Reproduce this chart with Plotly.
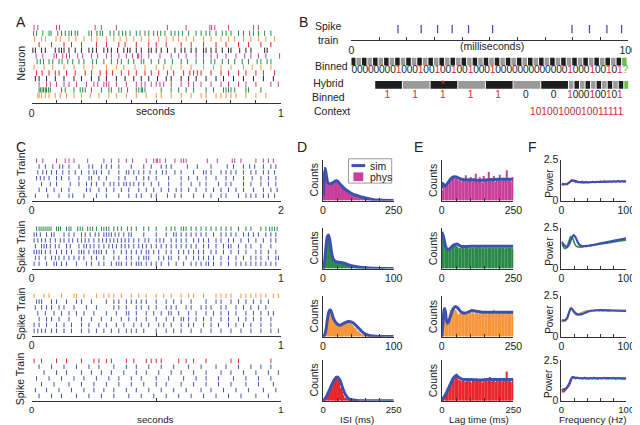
import plotly.graph_objects as go

FONT = "Liberation Sans, Arial, sans-serif"
W, H = 640, 425

MAG = "#c9409b"; GRN = "#2b8a48"; ORG = "#f7963a"; RED = "#e8262c"
BLK = "#262626"; BLU = "#4555ad"; SIM = "#3b52b0"

# ---------------- Panel A: spike times (ms) ----------------
A_n01 = [10, 25, 100, 112, 255, 280, 340, 545, 620, 715, 722, 735, 790, 890, 910]
A_n02 = [8, 20, 45, 70, 78, 105, 120, 135, 150, 160, 175, 185, 230, 240, 262, 275, 285, 315, 330, 350, 365, 378, 395, 420, 435, 455, 470, 490, 505, 518, 535, 560, 575, 590, 605, 630, 660, 680, 700, 715, 740, 765, 780, 800, 830, 850, 875, 890, 910, 935, 960]
A_n03 = [12, 40, 55, 98, 115, 150, 178, 210, 240, 262, 300, 330, 355, 380, 410, 440, 470, 510, 540, 568, 590, 620, 650, 690, 720, 760, 790, 815, 850, 880, 910, 940, 975]
A_n04 = [30, 80, 130, 160, 200, 260, 300, 350, 375, 420, 470, 500, 540, 600, 640, 690, 740, 780, 830, 870, 920, 960]
A_n05 = [5, 15, 40, 55, 95, 110, 120, 130, 150, 175, 200, 230, 245, 260, 290, 305, 320, 345, 370, 385, 395, 420, 440, 470, 480, 500, 520, 545, 575, 600, 615, 640, 660, 690, 700, 720, 740, 765, 790, 800, 835, 860, 880, 935, 945]
A_n06 = [18, 45, 90, 100, 125, 140, 152, 185, 205, 240, 265, 300, 320, 350, 380, 405, 425, 430, 440, 470, 515, 560, 590, 620, 660, 690, 720, 745, 780, 820, 855, 880, 910, 940, 995]
A_n07 = [22, 35, 48, 70, 85, 110, 122, 145, 165, 190, 210, 245, 260, 290, 320, 345, 360, 388, 410, 440, 450, 480, 510, 535, 565, 600, 625, 660, 690, 720, 735, 765, 790, 815, 845, 870, 905, 920, 945, 960]
A_n08 = [10, 50, 85, 130, 170, 210, 245, 300, 340, 370, 415, 455, 500, 530, 560, 600, 640, 690, 730, 760, 800, 850, 885, 920, 960]
A_n09 = [20, 42, 70, 95, 110, 140, 175, 215, 240, 275, 300, 325, 360, 390, 420, 455, 480, 510, 545, 570, 610, 635, 650, 665, 680, 720, 760, 790, 830, 860, 900, 930, 975]
A_n10 = [15, 30, 60, 95, 130, 170, 200, 240, 270, 300, 340, 375, 410, 440, 470, 505, 540, 560, 600, 630, 660, 700, 740, 770, 810, 850, 890, 930, 970]
A_n11 = [30, 60, 75, 100, 130, 150, 180, 220, 250, 265, 290, 300, 310, 340, 380, 420, 440, 455, 480, 500, 515, 530, 560, 600, 630, 650, 680, 720, 760, 790, 830, 860, 900, 960, 990]
A_n12 = [30, 35, 42, 48, 55, 60, 68, 75, 120, 135, 170, 195, 205, 215, 240, 280, 310, 320, 350, 360, 385, 420, 430, 440, 445, 455, 520, 560, 590, 620, 650, 700, 730, 770, 780, 790, 800, 815, 860, 870, 920]
A_n13 = [25, 30, 40, 55, 70, 95, 115, 140, 170, 200, 235, 270, 310, 340, 380, 420, 460, 500, 520, 560, 600, 640, 680, 700, 740, 760, 780, 800, 820, 860, 900, 940]

# ---------------- Panel C: spike times (ms) ----------------
C1_r1 = [40, 90, 200, 270, 300, 340, 450, 580, 640, 700, 760, 810, 920, 980, 1000, 1010, 1030, 1075, 1150, 1200, 1220, 1240, 1410, 1490, 1610, 1630, 1680, 1800, 1860, 1900, 1940]
C1_r2 = [60, 110, 170, 225, 250, 300, 380, 460, 490, 560, 600, 640, 700, 800, 900, 960, 1040, 1080, 1120, 1250, 1330, 1440, 1570, 1620, 1700, 1750, 1790, 1860, 1920, 1960]
C1_r3 = [50, 90, 120, 160, 200, 250, 300, 350, 400, 460, 500, 520, 560, 620, 700, 760, 780, 820, 860, 900, 950, 1000, 1050, 1080, 1150, 1200, 1300, 1380, 1400, 1440, 1520, 1560, 1600, 1640, 1700, 1760, 1800, 1860, 1900, 1950]
C1_r4 = [40, 70, 100, 140, 200, 240, 300, 380, 460, 480, 540, 600, 700, 750, 840, 900, 940, 1000, 1100, 1200, 1260, 1330, 1400, 1480, 1560, 1620, 1700, 1770, 1840, 1900, 1960]
C1_r5 = [80, 150, 200, 310, 380, 440, 480, 520, 580, 630, 660, 700, 740, 760, 790, 820, 860, 900, 960, 1020, 1100, 1200, 1280, 1350, 1400, 1500, 1560, 1600, 1700, 1760, 1840, 1900, 1960]
C1_r6 = [60, 120, 180, 240, 300, 440, 470, 540, 600, 660, 720, 780, 860, 920, 980, 1040, 1100, 1160, 1200, 1260, 1320, 1400, 1460, 1520, 1580, 1640, 1700, 1780, 1860, 1920, 1970]
C1_r7 = [30, 130, 220, 300, 330, 420, 520, 600, 700, 780, 840, 880, 960, 1000, 1090, 1150, 1200, 1300, 1380, 1440, 1520, 1560, 1660, 1720, 1760, 1800, 1860, 1900, 1950]

C2_r1 = [20, 30, 38, 46, 54, 62, 70, 78, 100, 108, 116, 140, 150, 158, 185, 195, 205, 225, 235, 245, 260, 280, 290, 300, 310, 330, 345, 360, 385, 400, 420, 450, 470, 500, 540, 560, 575, 600, 610, 620, 640, 660, 680, 700, 720, 740, 760, 780, 800, 830, 860, 880, 920, 940, 955, 965, 975, 985]
C2_r2 = [10, 20, 35, 60, 80, 90, 130, 150, 170, 200, 215, 235, 255, 270, 290, 300, 310, 320, 335, 350, 370, 390, 400, 450, 500, 540, 570, 580, 600, 620, 640, 660, 680, 700, 730, 760, 780, 800, 820, 850, 870, 890, 910, 940, 960, 980]
C2_r3 = [10, 25, 40, 55, 75, 95, 115, 130, 150, 165, 185, 200, 215, 230, 250, 270, 285, 300, 315, 330, 345, 360, 375, 390, 410, 430, 455, 470, 500, 515, 530, 560, 580, 600, 620, 650, 670, 690, 710, 740, 760, 790, 810, 840, 870, 900, 930, 960, 980]
C2_r4 = [15, 40, 50, 60, 75, 95, 110, 140, 155, 190, 210, 220, 235, 250, 270, 290, 310, 325, 340, 360, 375, 390, 410, 430, 445, 460, 480, 500, 520, 540, 560, 580, 600, 620, 640, 660, 690, 710, 740, 770, 790, 800, 830, 860, 880, 920, 960]
C2_r5 = [10, 20, 30, 40, 55, 75, 100, 120, 140, 160, 190, 200, 210, 230, 250, 260, 270, 280, 300, 330, 360, 380, 400, 420, 440, 460, 470, 490, 510, 540, 560, 590, 610, 630, 650, 670, 690, 720, 740, 770, 800, 830, 860, 900, 920, 950, 980]
C2_r6 = [15, 30, 55, 80, 95, 110, 130, 150, 170, 190, 210, 240, 260, 290, 330, 350, 380, 400, 430, 450, 460, 470, 510, 530, 550, 560, 590, 620, 650, 670, 690, 710, 730, 760, 790, 820, 850, 880, 900, 920, 950, 980, 990]
C2_r7 = [10, 30, 60, 90, 100, 120, 140, 180, 220, 240, 270, 290, 320, 340, 350, 360, 380, 400, 420, 430, 440, 460, 480, 500, 520, 550, 580, 610, 640, 660, 680, 700, 710, 730, 760, 790, 820, 840, 860, 880, 900, 920, 940, 960, 980]

C3_r1 = [10, 50, 70, 120, 170, 180, 210, 260, 290, 310, 330, 360, 400, 430, 460, 500, 530, 560, 600, 630, 650, 690, 740, 760, 780, 800, 840, 860, 880, 900, 920, 940, 970, 990]
C3_r2 = [20, 30, 40, 80, 100, 140, 180, 200, 240, 300, 330, 350, 380, 400, 420, 440, 460, 500, 540, 570, 600, 640, 700, 740, 760, 800, 830, 860, 890, 920, 950]
C3_r3 = [15, 40, 60, 80, 110, 130, 170, 220, 260, 330, 350, 380, 420, 440, 470, 500, 540, 560, 580, 620, 640, 680, 700, 720, 760, 780, 820, 850, 880, 910, 940]
C3_r4 = [25, 55, 90, 120, 150, 180, 210, 250, 300, 340, 380, 390, 420, 460, 490, 520, 550, 560, 590, 630, 660, 700, 730, 760, 790, 820, 860, 890, 920, 950, 970]
C3_r5 = [30, 60, 80, 110, 150, 200, 240, 280, 320, 360, 390, 420, 460, 500, 540, 570, 600, 610, 630, 660, 690, 720, 760, 790, 830, 860, 890, 920, 960]
C3_r6 = [10, 30, 60, 100, 130, 160, 200, 230, 270, 300, 340, 370, 410, 440, 470, 510, 530, 560, 600, 630, 650, 690, 720, 750, 790, 820, 850, 880, 920, 960]
C3_r7 = [10, 25, 40, 55, 80, 100, 130, 160, 200, 230, 260, 290, 320, 350, 380, 400, 420, 450, 500, 540, 570, 600, 640, 680, 720, 760, 800, 840, 880, 920, 960, 990]

C4_r1 = [10, 40, 100, 140, 200, 250, 270, 300, 320, 380, 410, 460, 480, 500, 520, 590, 620, 650, 700, 800, 830, 960]
C4_r2 = [30, 80, 130, 180, 230, 270, 330, 380, 420, 470, 520, 570, 630, 680, 740, 780, 830, 880, 920, 960]
C4_r3 = [50, 100, 140, 200, 240, 280, 320, 370, 420, 460, 510, 560, 600, 650, 700, 760, 800, 850, 900, 950, 990]
C4_r4 = [20, 70, 120, 170, 210, 260, 310, 350, 400, 440, 500, 550, 610, 660, 700, 750, 810, 860, 910, 960]
C4_r5 = [40, 90, 150, 200, 250, 300, 350, 400, 450, 500, 540, 600, 650, 700, 750, 800, 860, 910, 970]
C4_r6 = [15, 60, 110, 160, 210, 250, 290, 330, 380, 420, 470, 520, 570, 620, 680, 720, 770, 820, 870, 930, 980]
C4_r7 = [30, 80, 120, 180, 230, 280, 330, 390, 440, 490, 540, 590, 640, 690, 740, 790, 840, 900, 950]

# ---------------- Panel B ----------------
B_spikes_ms = [16.8, 25.2, 31.1, 36.4, 42.3, 51.0, 79.7, 86.0, 92.3, 97.6]
B_binned = "00000000100010010010010001" + "0000000000000" + "1000100101" + "?"
B_hybrid_blocks = ["1", "1", "1", "1", "1", "0", "0"]
B_hybrid_small = "1000100101"
B_context = "10100100010011111"

# ---------------- Panel D: ISI histograms ----------------
D1_phys = [0.55, 0.82, 0.6, 0.42, 0.4, 0.43, 0.46, 0.41, 0.49, 0.5, 0.46, 0.45, 0.4, 0.36, 0.33, 0.31, 0.26, 0.25, 0.21, 0.2, 0.17, 0.15, 0.13, 0.12, 0.1, 0.09, 0.08, 0.07, 0.06, 0.05, 0.05, 0.04, 0.035, 0.03, 0.025, 0.02, 0.02, 0.015, 0.015, 0.01, 0.01, 0.01, 0.008, 0.008, 0.006, 0.005, 0.005, 0.004, 0.003, 0.003]
D1_sim_x = [0, 4, 8, 12, 17, 25, 35, 45, 50, 55, 65, 76, 90, 105, 122, 140, 160, 180, 210, 250]
D1_sim_y = [0.1, 0.6, 0.78, 0.6, 0.44, 0.41, 0.44, 0.48, 0.48, 0.45, 0.37, 0.29, 0.22, 0.16, 0.12, 0.08, 0.05, 0.02, 0.01, 0.0]
D2_phys = [0.02, 0.3, 0.68, 0.84, 0.8, 0.6, 0.35, 0.22, 0.17, 0.16, 0.15, 0.14, 0.14, 0.13, 0.12, 0.11, 0.1, 0.09, 0.08, 0.07, 0.06, 0.05, 0.05, 0.04, 0.03, 0.03, 0.02, 0.02, 0.015, 0.01, 0.01, 0.008, 0.006, 0.005, 0.004, 0.003, 0.003, 0.002, 0.002, 0.002, 0.001, 0.001, 0.001, 0.001, 0, 0, 0, 0, 0, 0]
D2_sim_x = [0, 2, 4, 6, 8, 10, 12, 14, 17, 20, 25, 30, 35, 40, 50, 60, 70, 80, 100]
D2_sim_y = [0, 0.15, 0.5, 0.78, 0.82, 0.65, 0.4, 0.25, 0.18, 0.16, 0.15, 0.13, 0.1, 0.07, 0.04, 0.02, 0.01, 0.005, 0]
D3_phys = [0, 0.05, 0.2, 0.45, 0.62, 0.66, 0.58, 0.46, 0.38, 0.33, 0.3, 0.28, 0.29, 0.32, 0.35, 0.37, 0.38, 0.37, 0.35, 0.33, 0.3, 0.26, 0.22, 0.18, 0.14, 0.11, 0.08, 0.06, 0.04, 0.03, 0.02, 0.015, 0.01, 0.008, 0.006, 0.005, 0.004, 0.003, 0.002, 0.002, 0.001, 0.001, 0, 0, 0, 0, 0, 0, 0, 0]
D3_sim_x = [0, 2, 4, 6, 8, 10, 12, 14, 16, 18, 20, 24, 28, 32, 36, 40, 44, 48, 52, 56, 60, 65, 70, 80, 100]
D3_sim_y = [0, 0.03, 0.15, 0.4, 0.6, 0.66, 0.6, 0.48, 0.4, 0.35, 0.31, 0.28, 0.31, 0.35, 0.37, 0.36, 0.32, 0.25, 0.18, 0.11, 0.06, 0.03, 0.015, 0.005, 0]
D4_phys = [0.02, 0.06, 0.12, 0.18, 0.26, 0.34, 0.42, 0.5, 0.56, 0.6, 0.55, 0.44, 0.32, 0.22, 0.14, 0.08, 0.05, 0.03, 0.02, 0.01, 0.008, 0.005, 0.003, 0.002, 0.001, 0, 0, 0, 0, 0, 0, 0, 0, 0, 0, 0, 0, 0, 0, 0, 0, 0, 0, 0, 0, 0, 0, 0, 0, 0]
D4_sim_x = [0, 10, 20, 30, 40, 50, 60, 70, 80, 90, 100, 120, 150, 250]
D4_sim_y = [0, 0.08, 0.22, 0.38, 0.52, 0.58, 0.5, 0.3, 0.14, 0.06, 0.025, 0.008, 0, 0]

# ---------------- Panel E: autocorrelograms ----------------
E1_phys = [0.25, 0.38, 0.4, 0.36, 0.4, 0.46, 0.52, 0.56, 0.6, 0.55, 0.58, 0.5, 0.54, 0.47, 0.56, 0.5, 0.62, 0.45, 0.53, 0.5, 0.58, 0.46, 0.55, 0.66, 0.48, 0.52, 0.57, 0.5, 0.44, 0.6, 0.52, 0.5, 0.7, 0.47, 0.55, 0.52, 0.6, 0.46, 0.54, 0.5, 0.63, 0.5, 0.48, 0.56, 0.52, 0.74, 0.5, 0.55, 0.47, 0.58]
E1_sim_x = [0, 3, 6, 10, 15, 20, 30, 40, 50, 60, 70, 80, 100, 130, 160, 200, 250]
E1_sim_y = [0.3, 0.42, 0.4, 0.36, 0.38, 0.42, 0.52, 0.58, 0.58, 0.55, 0.52, 0.51, 0.51, 0.5, 0.51, 0.52, 0.52]
E2_phys = [0.85, 0.7, 0.55, 0.48, 0.46, 0.48, 0.52, 0.56, 0.58, 0.57, 0.54, 0.52, 0.5, 0.51, 0.52, 0.5, 0.51, 0.52, 0.5, 0.5, 0.52, 0.51, 0.5, 0.52, 0.5, 0.51, 0.53, 0.5, 0.51, 0.5, 0.52, 0.5, 0.51, 0.5, 0.52, 0.51, 0.5, 0.52, 0.5, 0.51, 0.5, 0.52, 0.51, 0.5, 0.5, 0.52, 0.51, 0.5, 0.51, 0.5]
E2_sim_x = [0, 5, 10, 15, 20, 25, 30, 40, 50, 55, 60, 70, 80, 100, 150, 200, 250]
E2_sim_y = [0.9, 0.8, 0.65, 0.52, 0.47, 0.47, 0.5, 0.57, 0.6, 0.6, 0.57, 0.54, 0.54, 0.55, 0.55, 0.55, 0.55]
E3_phys = [0.05, 0.68, 0.45, 0.3, 0.4, 0.55, 0.65, 0.72, 0.7, 0.65, 0.6, 0.55, 0.56, 0.58, 0.6, 0.62, 0.6, 0.58, 0.55, 0.6, 0.57, 0.62, 0.55, 0.58, 0.6, 0.56, 0.63, 0.55, 0.58, 0.6, 0.57, 0.55, 0.62, 0.58, 0.56, 0.6, 0.66, 0.55, 0.58, 0.6, 0.57, 0.56, 0.62, 0.58, 0.55, 0.6, 0.58, 0.56, 0.6, 0.57]
E3_sim_x = [0, 4, 7, 10, 13, 16, 20, 25, 30, 40, 48, 56, 65, 79, 92, 106, 120, 140, 170, 200, 250]
E3_sim_y = [0, 0.3, 0.6, 0.69, 0.6, 0.42, 0.33, 0.38, 0.5, 0.68, 0.74, 0.7, 0.62, 0.57, 0.6, 0.64, 0.62, 0.6, 0.6, 0.6, 0.6]
E4_phys = [0.04, 0.1, 0.18, 0.25, 0.32, 0.4, 0.47, 0.52, 0.56, 0.58, 0.66, 0.52, 0.5, 0.48, 0.52, 0.5, 0.46, 0.55, 0.48, 0.5, 0.45, 0.52, 0.5, 0.47, 0.55, 0.5, 0.48, 0.52, 0.45, 0.5, 0.53, 0.48, 0.5, 0.58, 0.47, 0.5, 0.52, 0.46, 0.5, 0.48, 0.52, 0.5, 0.47, 0.53, 0.5, 0.72, 0.48, 0.5, 0.46, 0.52]
E4_sim_x = [0, 10, 20, 30, 40, 50, 60, 70, 80, 100, 130, 160, 200, 250]
E4_sim_y = [0, 0.12, 0.25, 0.4, 0.55, 0.62, 0.57, 0.53, 0.52, 0.52, 0.51, 0.52, 0.52, 0.52]

# ---------------- Panel F: power spectra ----------------
F_freq = [0, 2, 4, 6, 8, 10, 12, 14, 16, 18, 20, 22, 24, 26, 28, 30, 32, 34, 36, 38, 40, 42, 44, 46, 48, 50, 52, 54, 56, 58, 60, 62, 64, 66, 68, 70, 72, 74, 76, 78, 80, 82, 84, 86, 88, 90, 92, 94, 96, 98, 100]
F1_phys = [0.95, 1.05, 0.98, 1.02, 0.97, 1.05, 1.1, 1.2, 1.28, 1.22, 1.18, 1.12, 1.15, 1.1, 1.14, 1.12, 1.18, 1.1, 1.13, 1.16, 1.12, 1.1, 1.15, 1.12, 1.17, 1.13, 1.1, 1.16, 1.14, 1.12, 1.18, 1.13, 1.15, 1.2, 1.12, 1.16, 1.14, 1.18, 1.15, 1.13, 1.2, 1.16, 1.14, 1.18, 1.22, 1.15, 1.17, 1.2, 1.16, 1.19, 1.15]
F1_sim_x = [0, 5, 10, 15, 20, 25, 30, 40, 60, 80, 100]
F1_sim_y = [1.0, 1.0, 1.05, 1.2, 1.22, 1.15, 1.12, 1.12, 1.15, 1.17, 1.18]
F2_phys = [1.55, 1.35, 1.25, 1.22, 1.3, 1.5, 1.75, 1.95, 1.9, 1.8, 1.55, 1.4, 1.35, 1.32, 1.3, 1.34, 1.32, 1.36, 1.38, 1.35, 1.4, 1.38, 1.42, 1.4, 1.45, 1.43, 1.47, 1.45, 1.5, 1.48, 1.52, 1.5, 1.55, 1.53, 1.57, 1.55, 1.6, 1.58, 1.62, 1.6, 1.65, 1.63, 1.67, 1.65, 1.7, 1.68, 1.72, 1.7, 1.75, 1.73, 1.78]
F2_sim_x = [0, 4, 8, 12, 16, 19, 22, 26, 30, 35, 40, 50, 60, 70, 80, 90, 100]
F2_sim_y = [1.65, 1.45, 1.3, 1.5, 1.9, 2.05, 1.9, 1.55, 1.4, 1.37, 1.4, 1.45, 1.55, 1.62, 1.7, 1.78, 1.85]
F3_phys = [0.95, 0.92, 0.98, 0.95, 1.05, 1.15, 1.45, 1.8, 1.65, 1.5, 1.42, 1.35, 1.32, 1.38, 1.42, 1.45, 1.5, 1.52, 1.55, 1.58, 1.56, 1.6, 1.58, 1.62, 1.6, 1.57, 1.62, 1.6, 1.63, 1.58, 1.6, 1.62, 1.57, 1.6, 1.63, 1.58, 1.6, 1.55, 1.62, 1.58, 1.6, 1.56, 1.6, 1.58, 1.55, 1.6, 1.57, 1.55, 1.58, 1.54, 1.56]
F3_sim_x = [0, 5, 8, 11, 14, 16, 19, 23, 27, 31, 36, 42, 50, 60, 80, 100]
F3_sim_y = [1.0, 1.0, 1.1, 1.4, 1.7, 1.72, 1.55, 1.4, 1.35, 1.38, 1.45, 1.55, 1.6, 1.62, 1.6, 1.58]
F4_phys = [0.5, 0.6, 0.55, 0.65, 0.7, 0.8, 0.95, 1.15, 1.38, 1.45, 1.4, 1.35, 1.42, 1.38, 1.36, 1.4, 1.34, 1.38, 1.42, 1.35, 1.38, 1.33, 1.4, 1.37, 1.35, 1.42, 1.36, 1.38, 1.33, 1.4, 1.37, 1.35, 1.39, 1.42, 1.36, 1.38, 1.34, 1.4, 1.37, 1.35, 1.41, 1.38, 1.33, 1.37, 1.4, 1.36, 1.38, 1.34, 1.37, 1.35, 1.33]
F4_sim_x = [0, 4, 8, 12, 15, 17, 20, 25, 30, 40, 60, 80, 100]
F4_sim_y = [0.65, 0.7, 0.8, 1.05, 1.35, 1.45, 1.42, 1.4, 1.38, 1.38, 1.38, 1.38, 1.37]

# ================= figure =================
fig = go.Figure()
L = {}
n_ax = [0]


def axes(x0, x1, ytop, ybot, xa, ya, tfs=10.5):
    n_ax[0] += 1
    k = n_ax[0]
    s = "" if k == 1 else str(k)
    base = dict(showgrid=False, zeroline=False, showline=True, linecolor="#333", linewidth=1,
                ticks="inside", ticklen=3, tickcolor="#333", tickwidth=1,
                tickfont=dict(family=FONT, size=10.5, color="#222"), fixedrange=True)
    bx = dict(base); bx.update(domain=[x0 / W, x1 / W], anchor="y" + s,
                               tickfont=dict(family=FONT, size=tfs, color="#222")); bx.update(xa)
    by = dict(base); by.update(domain=[1 - ybot / H, 1 - ytop / H], anchor="x" + s); by.update(ya)
    L["xaxis" + s] = bx
    L["yaxis" + s] = by
    return "x" + s, "y" + s


def ends(vals, first, last):
    return [first] + [""] * (len(vals) - 2) + [last]


def raster(rows, cols, xmax, step, x0, x1, ytop, ybot, rowtop, rowbot, msize, tfs=10.5):
    n = len(rows)
    pp = (rowbot - rowtop) / (n - 1)
    ylo = 1 - (ybot - rowbot) / pp
    yhi = n + (rowtop - ytop) / pp
    tv = [i * step for i in range(int(round(xmax / step)) + 1)]
    xa, ya = axes(x0, x1, ytop, ybot,
                  dict(range=[0, xmax], tickvals=tv, ticktext=ends(tv, "0", str(int(xmax)))),
                  dict(range=[ylo, yhi], visible=False), tfs)
    for i, (r, c) in enumerate(zip(rows, cols)):
        fig.add_trace(go.Scatter(x=[t / 1000 for t in r], y=[n - i] * len(r), mode="markers",
                                 xaxis=xa, yaxis=ya, hoverinfo="skip", showlegend=False,
                                 marker=dict(symbol="line-ns-open", size=msize, color=c,
                                             line=dict(width=1, color=c))))


def hist(x0, x1, ytop, ybot, xmax, step, bars, color, sx, sy, tfs):
    tv = list(range(0, xmax + 1, step))
    xa, ya = axes(x0, x1, ytop, ybot,
                  dict(range=[0, xmax], tickvals=tv, ticktext=ends(tv, "0", str(xmax))),
                  dict(range=[0, 1], tickvals=[1], ticktext=[""]), tfs)
    bw = xmax / len(bars)
    fig.add_trace(go.Bar(x=[(i + 0.5) * bw for i in range(len(bars))], y=bars, width=bw * 0.78,
                         marker=dict(color=color, line=dict(width=0)), xaxis=xa, yaxis=ya,
                         hoverinfo="skip", showlegend=False))
    fig.add_trace(go.Scatter(x=sx, y=sy, mode="lines", xaxis=xa, yaxis=ya, hoverinfo="skip",
                             showlegend=False,
                             line=dict(color=SIM, width=3, shape="spline", smoothing=0.6)))


def spectrum(x0, x1, ytop, ybot, phys, color, sx, sy, tfs):
    tv = list(range(0, 101, 20))
    xa, ya = axes(x0, x1, ytop, ybot,
                  dict(range=[0, 100], tickvals=tv, ticktext=ends(tv, "0", "100")),
                  dict(range=[0, 2.5], tickvals=[0, 2.5], ticktext=["0", "2.5"]), tfs)
    fig.add_trace(go.Scatter(x=F_freq, y=phys, mode="lines", xaxis=xa, yaxis=ya, hoverinfo="skip",
                             showlegend=False, line=dict(color=color, width=1.6)))
    fig.add_trace(go.Scatter(x=sx, y=sy, mode="lines", xaxis=xa, yaxis=ya, hoverinfo="skip",
                             showlegend=False,
                             line=dict(color=SIM, width=2.2, shape="spline", smoothing=0.6)))


# ---- A ----
A_rows = [A_n01, A_n02, A_n03, A_n04, A_n05, A_n06, A_n07, A_n08, A_n09, A_n10, A_n11, A_n12, A_n13]
A_cols = [MAG, GRN, ORG, RED, BLK, MAG, GRN, ORG, RED, BLK, MAG, GRN, ORG]
raster(A_rows, A_cols, 1, 0.1, 21, 275, 9, 92, 14, 84, 3.8)

# ---- C ----
C_sets = [
    ([C1_r1, C1_r2, C1_r3, C1_r4, C1_r5, C1_r6, C1_r7], MAG, 2, 0.5, 192, 10.5),
    ([C2_r1, C2_r2, C2_r3, C2_r4, C2_r5, C2_r6, C2_r7], GRN, 1, 0.5, 262, 10.5),
    ([C3_r1, C3_r2, C3_r3, C3_r4, C3_r5, C3_r6, C3_r7], ORG, 1, 0.5, 331, 10.5),
    ([C4_r1, C4_r2, C4_r3, C4_r4, C4_r5, C4_r6, C4_r7], RED, 1, 0.5, 398, 9.5),
]
for rows, col, xmax, step, yb, tfs in C_sets:
    raster(rows, [col] + [BLU] * 6, xmax, step, 21, 275, yb - 46, yb, yb - 41, yb - 5, 3.2, tfs)

# ---- D, E, F ----
row_bot = [192, 262, 332, 398]
D_sets = [(250, 50, D1_phys, MAG, D1_sim_x, D1_sim_y), (100, 20, D2_phys, GRN, D2_sim_x, D2_sim_y),
          (100, 20, D3_phys, ORG, D3_sim_x, D3_sim_y), (250, 50, D4_phys, RED, D4_sim_x, D4_sim_y)]
E_sets = [(E1_phys, MAG, E1_sim_x, E1_sim_y), (E2_phys, GRN, E2_sim_x, E2_sim_y),
          (E3_phys, ORG, E3_sim_x, E3_sim_y), (E4_phys, RED, E4_sim_x, E4_sim_y)]
F_sets = [(F1_phys, MAG, F1_sim_x, F1_sim_y), (F2_phys, GRN, F2_sim_x, F2_sim_y),
          (F3_phys, ORG, F3_sim_x, F3_sim_y), (F4_phys, RED, F4_sim_x, F4_sim_y)]
for i, yb in enumerate(row_bot):
    tfs = 9.5 if i == 3 else 10.5
    xm, st, bars, col, sx, sy = D_sets[i]
    hist(318, 390, yb - 42, yb, xm, st, bars, col, sx, sy, tfs)
    bars, col, sx, sy = E_sets[i]
    hist(439, 512, yb - 42, yb, 250, 50, bars, col, sx, sy, tfs)
    phys, col, sx, sy = F_sets[i]
    spectrum(561, 627, yb - 42, yb, phys, col, sx, sy, tfs)

# ---- B ----
tvB = list(range(0, 101, 10))
xb1, yb1 = axes(347, 629, 8, 27, dict(range=[0, 100], tickvals=tvB, ticktext=ends(tvB, "0", "100")),
                dict(range=[0, 1], visible=False))
fig.add_trace(go.Scatter(x=B_spikes_ms, y=[0.6] * len(B_spikes_ms), mode="markers", xaxis=xb1, yaxis=yb1,
                         hoverinfo="skip", showlegend=False,
                         marker=dict(symbol="line-ns-open", size=6, color=BLU, line=dict(width=1.3, color=BLU))))
xb2, yb2 = axes(347, 629, 38, 110, dict(range=[0, 100], visible=False), dict(range=[110, 38], visible=False))

DARK, GRAY, LGRN = "#1e1e1e", "#9a9a9a", "#6cc04a"
nb = len(B_binned)
bin_ms = 100 / nb
bx = [(i + 0.5) * bin_ms for i in range(nb)]
bcol = [LGRN if ch == "?" else (DARK if i % 2 == 0 else GRAY) for i, ch in enumerate(B_binned)]
fig.add_trace(go.Bar(x=bx, y=[8] * nb, base=45, width=bin_ms * 0.82, marker=dict(color=bcol, line=dict(width=0)),
                     xaxis=xb2, yaxis=yb2, hoverinfo="skip", showlegend=False))
dcol = {"0": "#222", "1": RED, "?": "#5cb040"}
fig.add_trace(go.Scatter(x=bx, y=[58.5] * nb, mode="text", text=list(B_binned),
                         textfont=dict(family=FONT, size=10.2, color=[dcol[c] for c in B_binned]),
                         xaxis=xb2, yaxis=yb2, hoverinfo="skip", showlegend=False))

block_ms = 5 * bin_ms
h_start = 4 * bin_ms
nblk = len(B_hybrid_blocks)
small_start = h_start + nblk * block_ms
hx = [h_start + (k + 0.5) * block_ms for k in range(nblk)] + \
     [small_start + (j + 0.5) * bin_ms for j in range(len(B_hybrid_small))]
hx_all = hx + [small_start + (len(B_hybrid_small) + 0.5) * bin_ms]
hw = [block_ms - 0.35] * nblk + [bin_ms * 0.82] * (len(B_hybrid_small) + 1)
hcol = [DARK if k % 2 == 0 else GRAY for k in range(nblk)] + \
       [GRAY if j % 2 == 0 else DARK for j in range(len(B_hybrid_small))] + [LGRN]
fig.add_trace(go.Bar(x=hx_all, y=[8] * len(hx_all), base=69, width=hw, marker=dict(color=hcol, line=dict(width=0)),
                     xaxis=xb2, yaxis=yb2, hoverinfo="skip", showlegend=False))
htxt = B_hybrid_blocks + list(B_hybrid_small)
fig.add_trace(go.Scatter(x=hx, y=[84] * len(hx), mode="text", text=htxt,
                         textfont=dict(family=FONT, size=10.2, color=[dcol[c] for c in htxt]),
                         xaxis=xb2, yaxis=yb2, hoverinfo="skip", showlegend=False))
fig.add_trace(go.Scatter(x=[hx[2]], y=[73.5], mode="text", text=["*"],
                         textfont=dict(family=FONT, size=10, color=RED),
                         xaxis=xb2, yaxis=yb2, hoverinfo="skip", showlegend=False))
ctx_html = "".join("<span style='color:%s'>%s</span>" % (RED if c == "1" else "#b03030", c) for c in B_context)

# ---- annotations ----
anns = []


def ann(text, px, py, size=10.5, color="#222", xanchor="center", angle=0):
    anns.append(dict(text=text, x=px / W, y=1 - py / H, xref="paper", yref="paper", showarrow=False,
                     xanchor=xanchor, yanchor="middle", textangle=angle,
                     font=dict(family=FONT, size=size, color=color)))


for lab, px, py in [("A", 3, 8), ("B", 291, 8), ("C", 3, 137), ("D", 289, 137), ("E", 409, 137), ("F", 525, 137)]:
    ann(lab, px, py, size=14, xanchor="left")
ann("Neuron", 10, 50, angle=-90)
ann("seconds", 147, 100)
ann("Spike<br>train", 323, 20)
ann("Binned", 308, 53, xanchor="left")
ann("Hybrid<br>Binned", 324, 78)
ann("Context", 307, 100, xanchor="left")
ann("(milliseconds)", 490, 33)
for yb in [192, 262, 331, 398]:
    ann("Spike Train", 10, yb - 23, angle=-90)
for yb in row_bot:
    ann("Counts", 309, yb - 21, angle=-90)
    ann("Counts", 430, yb - 21, angle=-90)
    ann("Power", 548, yb - 18, size=10, angle=-90)
for txt, px in [("seconds", 147), ("ISI (ms)", 353), ("Lag time (ms)", 477), ("Frequency (Hz)", 593)]:
    ann(txt, px, 417.5, size=9.8)
ann("sim", 364, 156, xanchor="left")
ann("phys", 364, 168, xanchor="left")
anns.append(dict(text=ctx_html, x=99.2, y=100, xref=xb2, yref=yb2, showarrow=False, xanchor="right",
                 yanchor="middle", font=dict(family=FONT, size=10.2)))

# legend drawn as shapes
shapes = [
    dict(type="rect", xref="paper", yref="paper", x0=344 / W, x1=388 / W, y0=1 - 174 / H, y1=1 - 149 / H,
         line=dict(color="#999", width=1), fillcolor="white", layer="above"),
    dict(type="line", xref="paper", yref="paper", x0=347 / W, x1=361 / W, y0=1 - 156 / H, y1=1 - 156 / H,
         line=dict(color=SIM, width=3)),
    dict(type="rect", xref="paper", yref="paper", x0=349 / W, x1=359 / W, y0=1 - 172 / H, y1=1 - 163 / H,
         line=dict(width=0), fillcolor=MAG),
]

L.update(dict(width=W, height=H, margin=dict(l=0, r=0, t=0, b=0), paper_bgcolor="white",
              plot_bgcolor="rgba(0,0,0,0)", showlegend=False, annotations=anns, shapes=shapes,
              font=dict(family=FONT, color="#222")))
fig.update_layout(**L)
fig.write_html("out.html")
